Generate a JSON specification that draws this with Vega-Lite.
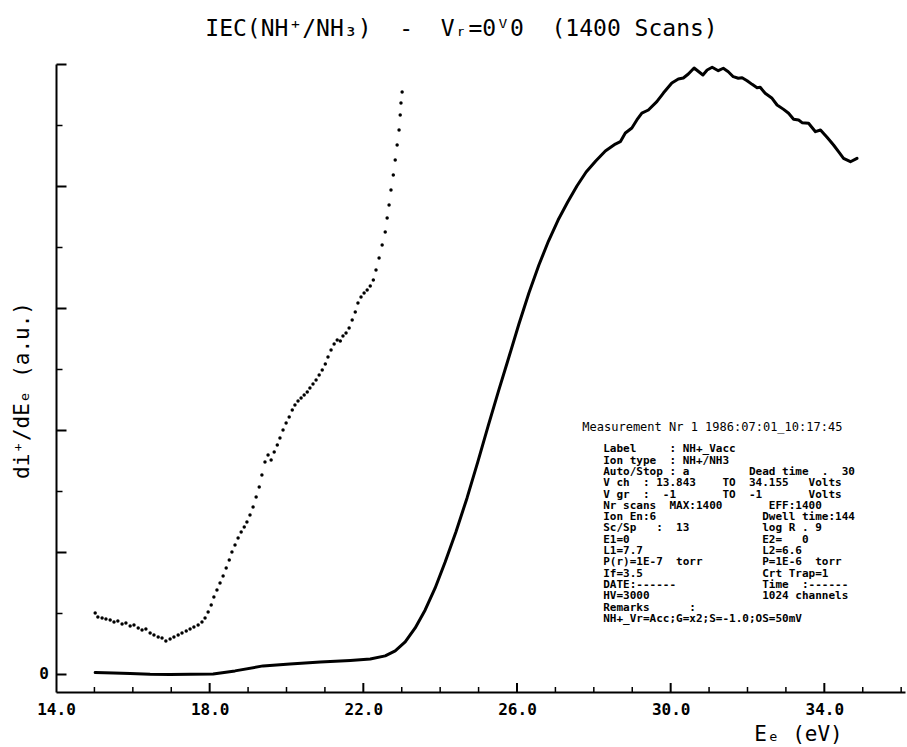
{
  "$schema": "https://vega.github.io/schema/vega-lite/v6.json",
  "width": 849,
  "height": 628,
  "autosize": {"type": "none"},
  "padding": {"left": 56, "top": 64, "right": 2, "bottom": 55},
  "background": "white",
  "config": {
    "view": {"stroke": null},
    "axis": {"grid": false, "domainColor": "black", "tickColor": "black", "labelColor": "black", "titleColor": "black"}
  },
  "title": {
    "text": "IEC(NH⁺/NH₃)\u00a0\u00a0-\u00a0\u00a0Vᵣ=0ⱽ0\u00a0\u00a0(1400\u00a0Scans)",
    "font": "DejaVu Sans Mono",
    "fontSize": 23,
    "fontWeight": "normal",
    "color": "black",
    "anchor": "middle",
    "frame": "group",
    "dx": -19,
    "offset": 15
  },
  "datasets": {
    "solid": [
      {"e": 15.02, "v": 0.011}, {"e": 15.5, "v": 0.008}, {"e": 15.93, "v": 0.004}, {"e": 16.45, "v": -0.002},
      {"e": 16.97, "v": -0.004}, {"e": 17.5, "v": -0.003}, {"e": 18.09, "v": 0.0}, {"e": 18.66, "v": 0.025},
      {"e": 19.39, "v": 0.066}, {"e": 20.09, "v": 0.082}, {"e": 20.88, "v": 0.098}, {"e": 21.66, "v": 0.111},
      {"e": 22.18, "v": 0.123}, {"e": 22.57, "v": 0.148}, {"e": 22.83, "v": 0.189}, {"e": 23.09, "v": 0.262},
      {"e": 23.35, "v": 0.377}, {"e": 23.61, "v": 0.525}, {"e": 23.87, "v": 0.705}, {"e": 24.13, "v": 0.918},
      {"e": 24.41, "v": 1.164}, {"e": 24.7, "v": 1.443}, {"e": 24.98, "v": 1.738}, {"e": 25.25, "v": 2.033},
      {"e": 25.52, "v": 2.32}, {"e": 25.79, "v": 2.598}, {"e": 26.05, "v": 2.869}, {"e": 26.31, "v": 3.123},
      {"e": 26.57, "v": 3.352}, {"e": 26.82, "v": 3.549}, {"e": 27.07, "v": 3.721}, {"e": 27.32, "v": 3.869},
      {"e": 27.56, "v": 4.0}, {"e": 27.8, "v": 4.115}, {"e": 28.05, "v": 4.205}, {"e": 28.3, "v": 4.287},
      {"e": 28.56, "v": 4.344}, {"e": 28.69, "v": 4.363}, {"e": 28.82, "v": 4.434}, {"e": 28.99, "v": 4.475},
      {"e": 29.12, "v": 4.541}, {"e": 29.25, "v": 4.598}, {"e": 29.42, "v": 4.623}, {"e": 29.64, "v": 4.691},
      {"e": 29.81, "v": 4.762}, {"e": 30.03, "v": 4.844}, {"e": 30.2, "v": 4.877}, {"e": 30.33, "v": 4.885},
      {"e": 30.46, "v": 4.918}, {"e": 30.61, "v": 4.967}, {"e": 30.84, "v": 4.91}, {"e": 30.95, "v": 4.951},
      {"e": 31.08, "v": 4.973}, {"e": 31.24, "v": 4.945}, {"e": 31.37, "v": 4.965}, {"e": 31.5, "v": 4.937},
      {"e": 31.63, "v": 4.896}, {"e": 31.76, "v": 4.883}, {"e": 31.86, "v": 4.888}, {"e": 31.99, "v": 4.863},
      {"e": 32.12, "v": 4.833}, {"e": 32.25, "v": 4.806}, {"e": 32.33, "v": 4.809}, {"e": 32.46, "v": 4.76},
      {"e": 32.64, "v": 4.719}, {"e": 32.77, "v": 4.664}, {"e": 32.94, "v": 4.628}, {"e": 33.07, "v": 4.596},
      {"e": 33.2, "v": 4.547}, {"e": 33.33, "v": 4.541}, {"e": 33.42, "v": 4.519}, {"e": 33.59, "v": 4.514},
      {"e": 33.77, "v": 4.445}, {"e": 33.9, "v": 4.459}, {"e": 34.07, "v": 4.399}, {"e": 34.24, "v": 4.336},
      {"e": 34.37, "v": 4.281}, {"e": 34.5, "v": 4.227}, {"e": 34.68, "v": 4.199}, {"e": 34.85, "v": 4.227}
    ],
    "dots": [
      {"e": 15.02, "v": 0.5}, {"e": 15.09, "v": 0.467}, {"e": 15.2, "v": 0.459}, {"e": 15.3, "v": 0.451},
      {"e": 15.41, "v": 0.443}, {"e": 15.51, "v": 0.426}, {"e": 15.61, "v": 0.434}, {"e": 15.72, "v": 0.41},
      {"e": 15.82, "v": 0.418}, {"e": 15.93, "v": 0.393}, {"e": 16.03, "v": 0.402}, {"e": 16.14, "v": 0.377},
      {"e": 16.24, "v": 0.361}, {"e": 16.34, "v": 0.369}, {"e": 16.45, "v": 0.336}, {"e": 16.55, "v": 0.32},
      {"e": 16.66, "v": 0.303}, {"e": 16.76, "v": 0.295}, {"e": 16.86, "v": 0.27}, {"e": 16.97, "v": 0.287},
      {"e": 17.07, "v": 0.303}, {"e": 17.18, "v": 0.32}, {"e": 17.28, "v": 0.336}, {"e": 17.39, "v": 0.352},
      {"e": 17.49, "v": 0.369}, {"e": 17.59, "v": 0.385}, {"e": 17.7, "v": 0.402}, {"e": 17.8, "v": 0.426},
      {"e": 17.88, "v": 0.459}, {"e": 17.96, "v": 0.508}, {"e": 18.04, "v": 0.566}, {"e": 18.11, "v": 0.631},
      {"e": 18.19, "v": 0.689}, {"e": 18.27, "v": 0.746}, {"e": 18.35, "v": 0.803}, {"e": 18.43, "v": 0.869},
      {"e": 18.51, "v": 0.934}, {"e": 18.58, "v": 1.0}, {"e": 18.66, "v": 1.057}, {"e": 18.74, "v": 1.115},
      {"e": 18.82, "v": 1.164}, {"e": 18.9, "v": 1.205}, {"e": 18.97, "v": 1.246}, {"e": 19.05, "v": 1.303},
      {"e": 19.13, "v": 1.369}, {"e": 19.21, "v": 1.451}, {"e": 19.29, "v": 1.533}, {"e": 19.36, "v": 1.631},
      {"e": 19.44, "v": 1.738}, {"e": 19.52, "v": 1.795}, {"e": 19.6, "v": 1.754}, {"e": 19.68, "v": 1.82},
      {"e": 19.76, "v": 1.877}, {"e": 19.83, "v": 1.934}, {"e": 19.91, "v": 2.0}, {"e": 19.99, "v": 2.057},
      {"e": 20.07, "v": 2.107}, {"e": 20.15, "v": 2.164}, {"e": 20.22, "v": 2.205}, {"e": 20.3, "v": 2.238},
      {"e": 20.38, "v": 2.262}, {"e": 20.46, "v": 2.287}, {"e": 20.54, "v": 2.311}, {"e": 20.61, "v": 2.344},
      {"e": 20.69, "v": 2.377}, {"e": 20.77, "v": 2.41}, {"e": 20.85, "v": 2.451}, {"e": 20.93, "v": 2.492},
      {"e": 21.01, "v": 2.541}, {"e": 21.08, "v": 2.598}, {"e": 21.16, "v": 2.656}, {"e": 21.24, "v": 2.705},
      {"e": 21.32, "v": 2.738}, {"e": 21.4, "v": 2.73}, {"e": 21.47, "v": 2.77}, {"e": 21.55, "v": 2.795},
      {"e": 21.63, "v": 2.836}, {"e": 21.71, "v": 2.902}, {"e": 21.79, "v": 2.967}, {"e": 21.86, "v": 3.041},
      {"e": 21.94, "v": 3.09}, {"e": 22.02, "v": 3.123}, {"e": 22.1, "v": 3.148}, {"e": 22.18, "v": 3.18},
      {"e": 22.26, "v": 3.23}, {"e": 22.33, "v": 3.311}, {"e": 22.41, "v": 3.41}, {"e": 22.49, "v": 3.516},
      {"e": 22.57, "v": 3.623}, {"e": 22.62, "v": 3.738}, {"e": 22.67, "v": 3.844}, {"e": 22.72, "v": 3.967},
      {"e": 22.78, "v": 4.09}, {"e": 22.83, "v": 4.213}, {"e": 22.88, "v": 4.336}, {"e": 22.93, "v": 4.459},
      {"e": 22.96, "v": 4.582}, {"e": 22.98, "v": 4.68}, {"e": 23.01, "v": 4.77}
    ],
    "majorTicks": [{"t": 18}, {"t": 22}, {"t": 26}, {"t": 30}, {"t": 34}],
    "minorTicks": [{"t": 15}, {"t": 16}, {"t": 17}, {"t": 19}, {"t": 20}, {"t": 21}, {"t": 23}, {"t": 24}, {"t": 25}, {"t": 27}, {"t": 28}, {"t": 29}, {"t": 31}, {"t": 32}, {"t": 33}, {"t": 35}, {"t": 36}],
    "header": [{"txt": "Measurement\u00a0Nr\u00a01\u00a01986:07:01_10:17:45"}],
    "body": [{"txt": "Label\u00a0\u00a0\u00a0\u00a0\u00a0:\u00a0NH+_Vacc\nIon\u00a0type\u00a0\u00a0:\u00a0NH+/NH3\nAuto/Stop\u00a0:\u00a0a\u00a0\u00a0\u00a0\u00a0\u00a0\u00a0\u00a0\u00a0\u00a0Dead\u00a0time\u00a0\u00a0.\u00a0\u00a030\nV\u00a0ch\u00a0\u00a0:\u00a013.843\u00a0\u00a0\u00a0\u00a0TO\u00a0\u00a034.155\u00a0\u00a0\u00a0Volts\nV\u00a0gr\u00a0\u00a0:\u00a0\u00a0-1\u00a0\u00a0\u00a0\u00a0\u00a0\u00a0\u00a0TO\u00a0\u00a0-1\u00a0\u00a0\u00a0\u00a0\u00a0\u00a0\u00a0Volts\nNr\u00a0scans\u00a0\u00a0MAX:1400\u00a0\u00a0\u00a0\u00a0\u00a0\u00a0\u00a0EFF:1400\nIon\u00a0En:6\u00a0\u00a0\u00a0\u00a0\u00a0\u00a0\u00a0\u00a0\u00a0\u00a0\u00a0\u00a0\u00a0\u00a0\u00a0\u00a0Dwell\u00a0time:144\nSc/Sp\u00a0\u00a0\u00a0:\u00a0\u00a013\u00a0\u00a0\u00a0\u00a0\u00a0\u00a0\u00a0\u00a0\u00a0\u00a0\u00a0log\u00a0R\u00a0.\u00a09\nE1=0\u00a0\u00a0\u00a0\u00a0\u00a0\u00a0\u00a0\u00a0\u00a0\u00a0\u00a0\u00a0\u00a0\u00a0\u00a0\u00a0\u00a0\u00a0\u00a0\u00a0E2=\u00a0\u00a0\u00a00\nL1=7.7\u00a0\u00a0\u00a0\u00a0\u00a0\u00a0\u00a0\u00a0\u00a0\u00a0\u00a0\u00a0\u00a0\u00a0\u00a0\u00a0\u00a0\u00a0L2=6.6\nP(r)=1E-7\u00a0\u00a0torr\u00a0\u00a0\u00a0\u00a0\u00a0\u00a0\u00a0\u00a0\u00a0P=1E-6\u00a0\u00a0torr\nIf=3.5\u00a0\u00a0\u00a0\u00a0\u00a0\u00a0\u00a0\u00a0\u00a0\u00a0\u00a0\u00a0\u00a0\u00a0\u00a0\u00a0\u00a0\u00a0Crt\u00a0Trap=1\nDATE:------\u00a0\u00a0\u00a0\u00a0\u00a0\u00a0\u00a0\u00a0\u00a0\u00a0\u00a0\u00a0\u00a0Time\u00a0\u00a0:------\nHV=3000\u00a0\u00a0\u00a0\u00a0\u00a0\u00a0\u00a0\u00a0\u00a0\u00a0\u00a0\u00a0\u00a0\u00a0\u00a0\u00a0\u00a01024\u00a0channels\n\u00a0Remarks\u00a0\u00a0\u00a0\u00a0\u00a0\u00a0:\nNH+_Vr=Acc;G=x2;S=-1.0;OS=50mV"}]
  },
  "layer": [
    {
      "data": {"name": "solid"},
      "mark": {"type": "line", "color": "black", "strokeWidth": 3, "strokeJoin": "round", "strokeCap": "round"},
      "encoding": {
        "x": {
          "field": "e", "type": "quantitative",
          "scale": {"domain": [14, 36.1], "nice": false, "zero": false},
          "axis": {
            "orient": "bottom", "values": [14, 18, 22, 26, 30, 34], "format": ".1f",
            "domain": true, "domainWidth": 2, "ticks": false,
            "labelFont": "DejaVu Sans Mono", "labelFontSize": 16, "labelFontWeight": "bold",
            "labelPadding": 9, "labelFlush": false, "labelOverlap": false,
            "title": "Eₑ (eV)", "titleFont": "DejaVu Sans Mono", "titleFontSize": 21, "titleFontWeight": "normal",
            "titleX": 742, "titleY": 48, "titleAlign": "center", "titleBaseline": "alphabetic"
          }
        },
        "y": {
          "field": "v", "type": "quantitative",
          "scale": {"domain": [-0.148, 5], "nice": false, "zero": false},
          "axis": {
            "orient": "left", "values": [0, 1, 2, 3, 4, 5], "labelExpr": "datum.value == 0 ? '0' : ''",
            "domain": true, "domainWidth": 2, "ticks": true, "tickSize": -10, "tickWidth": 2,
            "labelFont": "DejaVu Sans Mono", "labelFontSize": 16, "labelFontWeight": "bold",
            "labelPadding": 17.5, "labelFlush": false, "labelOverlap": false,
            "title": "di⁺/dEₑ (a.u.)", "titleFont": "DejaVu Sans Mono", "titleFontSize": 21, "titleFontWeight": "normal",
            "titleX": -34, "titleY": 326, "titleAngle": -90, "titleAlign": "center", "titleBaseline": "middle"
          }
        }
      }
    },
    {
      "data": {"name": "dots"},
      "mark": {"type": "point", "shape": "circle", "filled": true, "color": "black", "size": 12, "opacity": 1},
      "encoding": {
        "x": {"field": "e", "type": "quantitative", "axis": null},
        "y": {
          "field": "v", "type": "quantitative",
          "axis": {"orient": "left", "values": [0.5, 1.5, 2.5, 3.5, 4.5],
                   "domain": false, "labels": false, "tickSize": -6, "tickWidth": 1.5, "title": null}
        }
      }
    },
    {
      "data": {"name": "majorTicks"},
      "mark": {"type": "rule", "color": "black", "strokeWidth": 2},
      "encoding": {
        "x": {"field": "t", "type": "quantitative", "axis": null},
        "y": {"datum": -0.148, "type": "quantitative", "axis": null},
        "y2": {"datum": -0.074}
      }
    },
    {
      "data": {"name": "minorTicks"},
      "mark": {"type": "rule", "color": "black", "strokeWidth": 1.5},
      "encoding": {
        "x": {"field": "t", "type": "quantitative", "axis": null},
        "y": {"datum": -0.148, "type": "quantitative", "axis": null},
        "y2": {"datum": -0.107}
      }
    },
    {
      "data": {"name": "header"},
      "mark": {"type": "text", "font": "DejaVu Sans Mono", "fontSize": 12, "align": "left", "baseline": "middle", "color": "black"},
      "encoding": {
        "x": {"datum": 27.7, "type": "quantitative", "axis": null},
        "y": {"datum": 2.025, "type": "quantitative", "axis": null},
        "text": {"field": "txt"}
      }
    },
    {
      "data": {"name": "body"},
      "mark": {"type": "text", "font": "DejaVu Sans Mono", "fontSize": 11, "fontWeight": "bold", "align": "left", "baseline": "top", "lineBreak": "\n", "lineHeight": 11.3, "color": "black"},
      "encoding": {
        "x": {"datum": 28.245, "type": "quantitative", "axis": null},
        "y": {"datum": 1.89, "type": "quantitative", "axis": null},
        "text": {"field": "txt"}
      }
    }
  ],
  "resolve": {"axis": {"x": "independent", "y": "independent"}}
}
